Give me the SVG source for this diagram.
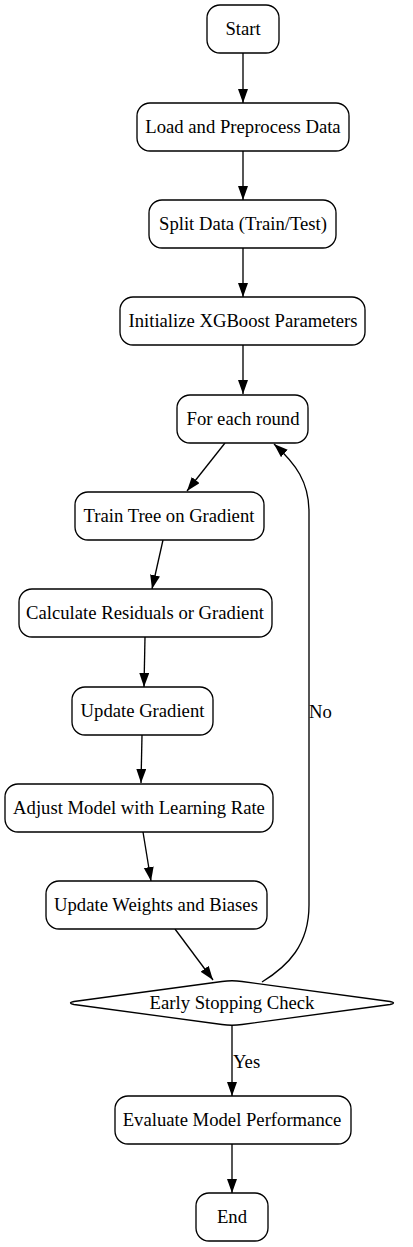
<svg xmlns="http://www.w3.org/2000/svg" width="413" height="1247" viewBox="0 0 413 1247">
<style>
.n{fill:#fff;stroke:#000;stroke-width:1.33}
.t{font-family:"Liberation Serif","Times New Roman",serif;font-size:18.67px;text-anchor:middle;fill:#000}
.l{font-family:"Liberation Serif","Times New Roman",serif;font-size:18.67px;text-anchor:start;fill:#000}
.e{fill:none;stroke:#000;stroke-width:1.33}
</style>
<defs>
<marker id="a" markerUnits="userSpaceOnUse" markerWidth="15" markerHeight="11" refX="14" refY="5" orient="auto">
<path d="M0,0 L14,5 L0,10 z" fill="#000"/>
</marker>
</defs>
<rect width="413" height="1247" fill="#fff"/>
<g id="edges">
<line class="e" x1="243" y1="53" x2="243" y2="103" marker-end="url(#a)"/>
<line class="e" x1="243" y1="151" x2="243" y2="200" marker-end="url(#a)"/>
<line class="e" x1="243" y1="248" x2="243" y2="297" marker-end="url(#a)"/>
<line class="e" x1="243" y1="345" x2="243" y2="394" marker-end="url(#a)"/>
<line class="e" x1="225" y1="443" x2="187" y2="491" marker-end="url(#a)"/>
<line class="e" x1="163" y1="540" x2="152" y2="589" marker-end="url(#a)"/>
<line class="e" x1="145" y1="637" x2="144" y2="687" marker-end="url(#a)"/>
<line class="e" x1="142" y1="735" x2="141" y2="783" marker-end="url(#a)"/>
<line class="e" x1="143" y1="832" x2="151" y2="881" marker-end="url(#a)"/>
<line class="e" x1="175" y1="929" x2="213" y2="980" marker-end="url(#a)"/>
<line class="e" x1="232" y1="1026" x2="232" y2="1096" marker-end="url(#a)"/>
<line class="e" x1="232" y1="1144" x2="232" y2="1193" marker-end="url(#a)"/>
<path class="e" d="M262,982 C288,966 309,945 309,905 L309,512 C309,482 296,464 274,444" marker-end="url(#a)"/>
<text class="l" x="309" y="718">No</text>
<text class="l" x="233" y="1068">Yes</text>
</g>
<g id="start"><rect class="n" x="207" y="5" width="72" height="48" rx="13"/><text class="t" x="243" y="35">Start</text></g>
<g id="load"><rect class="n" x="137" y="103" width="212" height="48" rx="13"/><text class="t" x="243" y="133">Load and Preprocess Data</text></g>
<g id="split"><rect class="n" x="149" y="200" width="187" height="48" rx="13"/><text class="t" x="243" y="230">Split Data (Train/Test)</text></g>
<g id="init"><rect class="n" x="120" y="297" width="245" height="48" rx="13"/><text class="t" x="243" y="327">Initialize XGBoost Parameters</text></g>
<g id="round"><rect class="n" x="177" y="395" width="131" height="48" rx="13"/><text class="t" x="243" y="425">For each round</text></g>
<g id="train"><rect class="n" x="75" y="492" width="189" height="48" rx="13"/><text class="t" x="169" y="522">Train Tree on Gradient</text></g>
<g id="calc"><rect class="n" x="19" y="589" width="253" height="48" rx="13"/><text class="t" x="145" y="619">Calculate Residuals or Gradient</text></g>
<g id="updg"><rect class="n" x="72" y="687" width="141" height="48" rx="13"/><text class="t" x="142.5" y="717">Update Gradient</text></g>
<g id="adjust"><rect class="n" x="5" y="784" width="268" height="48" rx="13"/><text class="t" x="139" y="814">Adjust Model with Learning Rate</text></g>
<g id="updw"><rect class="n" x="46" y="881" width="221" height="48" rx="13"/><text class="t" x="156" y="911">Update Weights and Biases</text></g>
<g id="check"><path class="n" d="M222,981.5 Q232,980 242,981.5 L390,1001.5 Q397,1003 390,1004.5 L242,1024.5 Q232,1026 222,1024.5 L74,1004.5 Q67,1003 74,1001.5 Z"/><text class="t" x="232" y="1009">Early Stopping Check</text></g>
<g id="eval"><rect class="n" x="115" y="1096" width="236" height="48" rx="13"/><text class="t" x="232" y="1126">Evaluate Model Performance</text></g>
<g id="end"><rect class="n" x="196" y="1193" width="72" height="48" rx="13"/><text class="t" x="232" y="1223">End</text></g>
</svg>
